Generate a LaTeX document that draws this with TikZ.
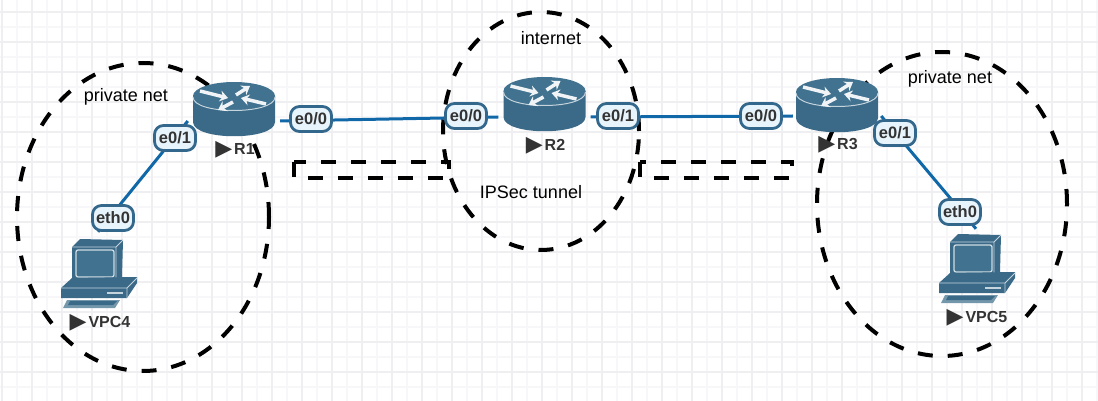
\documentclass[tikz,border=0pt]{standalone}
\usepackage{fontspec}
\setmainfont{Liberation Sans}
\newfontfamily\symfont{DejaVu Sans}
\usetikzlibrary{arrows.meta}
\definecolor{gridminor}{HTML}{F7F7F9}
\definecolor{gridmajor}{HTML}{EFEFF2}
\definecolor{linkblue}{HTML}{1068A8}
\definecolor{tagline}{HTML}{33688C}
\definecolor{tagfill}{HTML}{E8F4FC}
\definecolor{icontop}{HTML}{41728F}
\definecolor{iconbody}{HTML}{3A6A88}
\definecolor{textdark}{HTML}{333333}
\newcommand{\devmark}{\raisebox{-1pt}{\symfont\fontsize{22}{22}\selectfont ▶}\hspace{2pt}}
\tikzset{
  region/.style={black,line width=4pt,dash pattern=on 15pt off 15pt},
  link/.style={linkblue,line width=3pt},
  anchorbox/.style={inner sep=0pt,minimum height=30pt},
  pcbox/.style={inner sep=0pt,minimum width=80pt,minimum height=76pt},
  tag/.style={draw=tagline,line width=2.8pt,fill=tagfill,rounded corners=9pt,text=textdark,
    font=\bfseries\fontsize{16.5}{16.5}\selectfont,inner sep=0pt,minimum width=41pt,minimum height=25pt},
  devlabel/.style={text=textdark,font=\bfseries\fontsize{16}{16}\selectfont,inner sep=0pt},
  note/.style={text=black,font=\fontsize{18}{18}\selectfont,inner sep=0pt},
  routerarrow/.style={white!92!icontop,line width=3.5pt,-{Stealth[length=8pt,width=11pt]}},
  routericon/.pic={
    \fill[iconbody] (-41,0) -- (-41,26) .. controls (-41,45) and (41,45) .. (41,26) -- (41,0) -- cycle;
    \fill[icontop] (0,0) ellipse[x radius=41pt,y radius=14pt];
    \draw[white!70!icontop,line width=1pt] (-41,1) .. controls (-41,19) and (41,19) .. (41,1);
    \draw[routerarrow] (-34,-5) -- (-6,2);
    \draw[routerarrow] (2,-1) -- (16,-10);
    \draw[routerarrow] (-1,6) -- (-16,14);
    \draw[routerarrow] (32,8) -- (7,2);
  },
  pcicon/.pic={
    \fill[iconbody] (-18,-33) -- (25,-32) -- (24,5) -- (18,8) -- (-26,8) -- (-26,-25) -- cycle;
    \draw[white!70!icontop,line width=0.8pt] (-26,-25) -- (18,-25) -- (18,8) (18,-25) -- (25,-32);
    \draw[white!75!icontop,line width=1.3pt,fill=icontop,rounded corners=2pt] (-22,-22) rectangle (16,5);
    \fill[iconbody] (-37,16) -- (-26,6) -- (39,5) -- (39,11) -- (29,26) -- (-37,26) -- cycle;
    \draw[white!70!icontop,line width=0.8pt] (-37,16) -- (29,16) -- (39,6) (29,16) -- (29,26);
    \draw[white!70!icontop,line width=2pt] (9,21) -- (25,21);
    \fill[iconbody!70!white] (-31,28) -- (22,28) -- (17,36) -- (-35,36) -- cycle;
    \fill[iconbody] (-28,29) -- (19,29) -- (15,33) -- (-30,33) -- cycle;
  }
}

\begin{document}
\begin{tikzpicture}[x=1pt,y=-1pt]
\useasboundingbox (0,0) rectangle (1098,401);

% background grid
\foreach \gx in {2,17,...,1097} \draw[gridminor,line width=1.5pt] (\gx,0) -- (\gx,401);
\foreach \gy in {12,27,...,400} \draw[gridminor,line width=1.5pt] (0,\gy) -- (1098,\gy);
\foreach \gx in {2,32,...,1097} \draw[gridmajor,line width=1.5pt] (\gx,0) -- (\gx,401);
\foreach \gy in {12,42,...,400} \draw[gridmajor,line width=1.5pt] (0,\gy) -- (1098,\gy);

% zones
\draw[region] (143,217) ellipse[x radius=126pt,y radius=154pt];
\draw[region] (541,131) ellipse[x radius=98pt,y radius=119pt];
\draw[region] (942,204) ellipse[x radius=125pt,y radius=152pt];
\draw[region] (294,162) rectangle (449,178);
\draw[region] (640,162) rectangle (792,178);

% devices
\node[anchorbox,minimum width=92pt] (R1) at (234,121) {};
\node[anchorbox,minimum width=92pt] (R2) at (544.5,117) {};
\node[anchorbox,minimum width=88pt] (R3) at (837,116) {};
\node[pcbox] (VPC4) at (98,270) {};
\node[pcbox] (VPC5) at (976,267) {};

\draw[link] (VPC4.north) -- (R1.west);
\draw[link] (R1.east) -- (R2.west);
\draw[link] (R2.east) -- (R3.west);
\draw[link] (R3.east) -- (VPC5.north);

\pic at (234,96) {routericon};
\pic at (544.5,91) {routericon};
\pic at (837,92) {routericon};
\pic at (98,272) {pcicon};
\pic at (976,267) {pcicon};

\node[devlabel] (R1label) at (235,150) {\devmark R1};
\node[devlabel] (R2label) at (545.5,146) {\devmark R2};
\node[devlabel] (R3label) at (838,145) {\devmark R3};
\node[devlabel] (VPC4label) at (100,323) {\devmark VPC4};
\node[devlabel] (VPC5label) at (977,318) {\devmark VPC5};

% interface tags
\node[tag] (R1e01) at (175,138) {e0/1};
\node[tag] (VPC4eth) at (113,218) {eth0};
\node[tag] (R1e00) at (311,119) {e0/0};
\node[tag] (R2e00) at (466,116) {e0/0};
\node[tag] (R2e01) at (618,116) {e0/1};
\node[tag] (R3e00) at (761,116) {e0/0};
\node[tag] (R3e01) at (895,133) {e0/1};
\node[tag] (VPC5eth) at (960,212) {eth0};

\node[note] (privleft) at (126,97) {private net};
\node[note] (privright) at (950,79) {private net};
\node[note] (inet) at (551,38) {internet};
\node[note] (ipsec) at (531,192) {IPSec tunnel};
\end{tikzpicture}
\end{document}
